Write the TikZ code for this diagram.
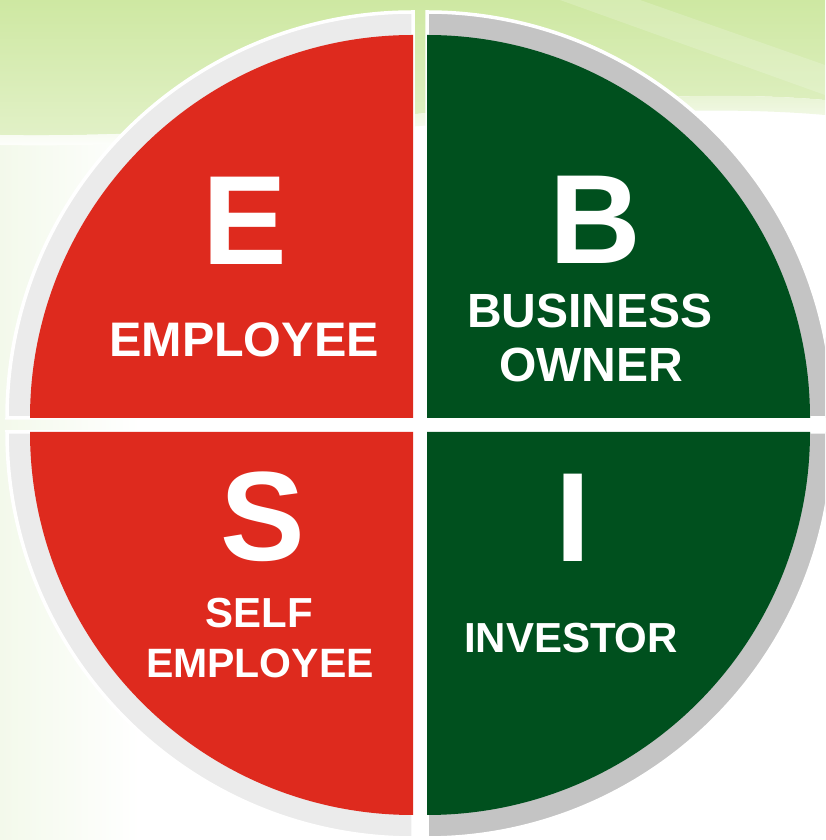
\documentclass[tikz,border=0pt]{standalone}
\usepackage{fontspec}
\setmainfont{Liberation Sans}
\definecolor{esred}{RGB}{222,42,30}
\definecolor{esgreen}{RGB}{0,80,30}
\definecolor{ringlight}{RGB}{235,235,235}
\definecolor{ringdark}{RGB}{196,196,196}
\definecolor{bgtop}{RGB}{206,232,162}
\definecolor{bgbot}{RGB}{226,241,200}
\definecolor{bgfaint}{RGB}{243,249,235}
\tikzset{
  ring/.style={draw=white, line width=3.5pt},
  big/.style={text=white, anchor=base, inner sep=0pt, font=\fontsize{127}{127}\selectfont\bfseries},
  lbl/.style={text=white, anchor=base, inner sep=0pt, font=\fontsize{#1}{#1}\selectfont\bfseries},
}
\begin{document}
\begin{tikzpicture}[x=1pt,y=1pt]
\useasboundingbox (0,0) rectangle (825,840);
\clip (0,0) rectangle (825,840);
% background
\fill[white] (0,0) rectangle (825,840);
\shade[left color=bgfaint, right color=white] (0,0) rectangle (140,720);
\shade[top color=bgtop, bottom color=bgbot]
  (0,840) -- (825,840) -- (825,740) .. controls (600,760) and (300,700) .. (0,705) -- cycle;
\shade[top color=bgbot, bottom color=white]
  (0,705) .. controls (300,700) and (600,760) .. (825,740) -- (825,725) .. controls (600,745) and (300,690) .. (0,695) -- cycle;
\fill[white, opacity=0.18] (560,840) -- (640,840) -- (825,775) -- (825,745) -- cycle;
% rings
\filldraw[ring, fill=ringlight] (413,422) -- ++(180:406) arc (180:90:406) -- cycle;
\filldraw[ring, fill=ringdark]  (427,422) -- ++(90:406) arc (90:0:406) -- cycle;
\filldraw[ring, fill=ringlight] (413,408) -- ++(270:406) arc (270:180:406) -- cycle;
\filldraw[ring, fill=ringdark]  (427,408) -- ++(0:406) arc (0:-90:406) -- cycle;
% quadrants
\fill[esred]   (413,422) -- ++(180:383) arc (180:90:383) -- cycle;
\fill[esgreen] (427,422) -- ++(90:383) arc (90:0:383) -- cycle;
\fill[esred]   (413,408) -- ++(270:383) arc (270:180:383) -- cycle;
\fill[esgreen] (427,408) -- ++(0:383) arc (0:-90:383) -- cycle;
% texts
\node[big] (e) at (245,575) {E};
\node[lbl=48.5] (emp) at (244,483) {EMPLOYEE};
\node[big] (b) at (595,576) {B};
\node[lbl=48] (bus) at (590,512) {BUSINESS};
\node[lbl=48] (own) at (591,458) {OWNER};
\node[big] (s) at (263,279) {S};
\node[lbl=42] (self) at (259,212) {SELF};
\node[lbl=41] (semp) at (260,162) {EMPLOYEE};
\node[big] (i) at (573.5,278) {I};
\node[lbl=42] (inv) at (571,187) {INVESTOR};
\end{tikzpicture}
\end{document}
